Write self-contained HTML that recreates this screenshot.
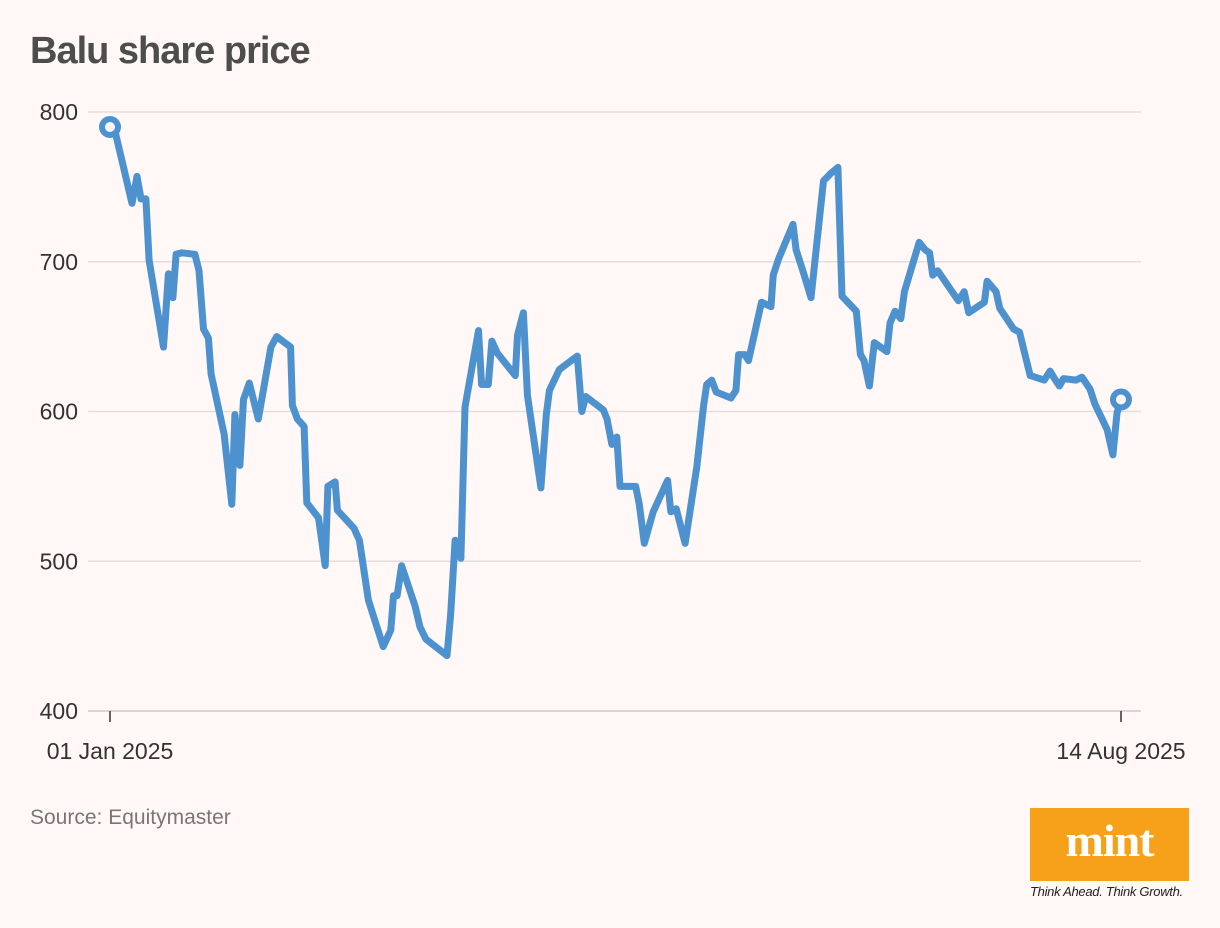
<!DOCTYPE html>
<html><head><meta charset="utf-8"><style>
html,body{margin:0;padding:0;background:#fff8f7;}
body{width:1220px;height:928px;position:relative;overflow:hidden;font-family:"Liberation Sans",sans-serif;}
#title{position:absolute;left:30px;top:30px;font-size:38px;font-weight:bold;color:#4d4d4d;letter-spacing:-1px;}
#source{position:absolute;left:30px;top:806px;font-size:21px;color:#777;}
#logo{position:absolute;left:1030px;top:808px;width:159px;height:73px;background:#f7a11a;color:#fff;font-family:"Liberation Serif",serif;font-weight:bold;font-size:46px;text-align:center;line-height:66px;letter-spacing:-1px;}
#tag{position:absolute;left:1030px;top:884px;font-size:13px;font-style:italic;color:#222;letter-spacing:-0.3px;}
svg{position:absolute;left:0;top:0;}
</style></head><body>
<div id="title">Balu share price</div>
<svg id="chart" width="1220" height="800"></svg>
<div id="source">Source: Equitymaster</div>
<div id="logo">mint</div>
<div id="tag">Think Ahead. Think Growth.</div>
<script>
const days=[0,1.3,4.9,6.0,6.9,8.0,8.7,11.9,13.0,14.0,14.7,16.0,18.9,19.8,20.8,21.9,22.5,25.4,27.1,27.8,28.9,29.7,31.0,33.0,34.3,35.8,37.1,40.2,40.6,41.7,43.2,43.8,46.4,47.9,48.5,50.1,50.6,54.3,55.5,57.5,60.8,62.5,63.1,63.9,64.9,67.9,69.0,70.3,75.0,75.8,76.8,78.1,79.0,82.0,82.7,84.2,85.0,86.2,90.2,90.7,92.0,92.9,95.9,97.1,97.8,100.0,104.0,105.0,105.9,109.8,110.6,111.7,112.8,113.5,117.0,117.8,118.9,120.9,124.1,124.8,126.0,128.0,130.6,132.1,132.8,133.9,134.9,138.2,139.3,139.9,141.3,142.1,145.0,147.1,147.6,148.8,152.0,152.7,154.3,156.0,158.8,160.4,162.0,162.9,166.1,167.0,167.8,169.0,170.1,172.9,173.6,174.7,176.0,176.8,180.1,181.4,182.4,183.1,184.2,188.8,190.1,191.1,194.6,195.2,197.2,198.0,201.1,202.4,203.3,204.8,207.9,209.2,210.2,211.3,212.2,215.0,216.3,218.1,219.2,221.9,223.2,224.1,225];
const prices=[790,785,739,757,742,742,701,643,692,676,705,706,705,694,655,649,625,585,538,598,564,608,619,595,617,643,650,643,604,595,590,539,529,497,550,553,534,522,514,474,443,454,477,477,497,470,456,448,437,464,514,502,603,654,618,618,647,639,624,651,666,611,549,598,614,628,637,600,610,601,595,578,583,550,550,538,512,533,554,533,535,512,563,604,618,621,613,609,614,638,638,634,673,670,691,702,725,708,693,676,754,759,763,677,667,638,634,617,646,640,659,667,662,680,713,708,706,691,694,674,680,666,673,687,680,669,655,653,642,624,621,627,622,617,622,621,623,615,605,588,571,599,608];
const yTicks=[400,500,600,700,800];
const xTickDays=[0,225];
const xTickLabels=["01 Jan 2025","14 Aug 2025"];
const NS="http://www.w3.org/2000/svg";
const svg=document.getElementById('chart');
const x=d=>110+(d/225)*1011;
const y=v=>711-(v-400)*(599/400);
function mk(t,a){const e=document.createElementNS(NS,t);for(const k in a)e.setAttribute(k,a[k]);svg.appendChild(e);return e;}
yTicks.forEach(v=>{
  const g=mk('line',{x1:88,x2:1141,y1:y(v),y2:y(v),stroke:v===400?'#ccc':'#e3dddc','stroke-width':1.5});
  
  
  const t=mk('text',{x:78,y:y(v)+8,'text-anchor':'end','font-size':23,fill:'#333','font-family':'Liberation Sans, sans-serif'});
  t.textContent=v;
  
  
});
xTickDays.forEach((d,i)=>{
  const l=mk('line',{x1:x(d),x2:x(d),y1:711,y2:722,stroke:'#333','stroke-width':1.5});
  
  
  const t=mk('text',{x:x(d),y:759,'text-anchor':'middle','font-size':23,fill:'#333','font-family':'Liberation Sans, sans-serif'});
  t.textContent=xTickLabels[i];
  
  
});
const pts=days.map((d,i)=>x(d).toFixed(1)+','+y(prices[i]).toFixed(1)).join(' ');
const line=mk('polyline',{points:pts,fill:'none',stroke:'#4d92cf','stroke-width':7,'stroke-linejoin':'round','stroke-linecap':'round'});


[0,days.length-1].forEach(i=>{
  const c=mk('circle',{cx:x(days[i]),cy:y(prices[i]),r:8,fill:'#fff8f7',stroke:'#4d92cf','stroke-width':6});
  
  
});
</script>
</body></html>
